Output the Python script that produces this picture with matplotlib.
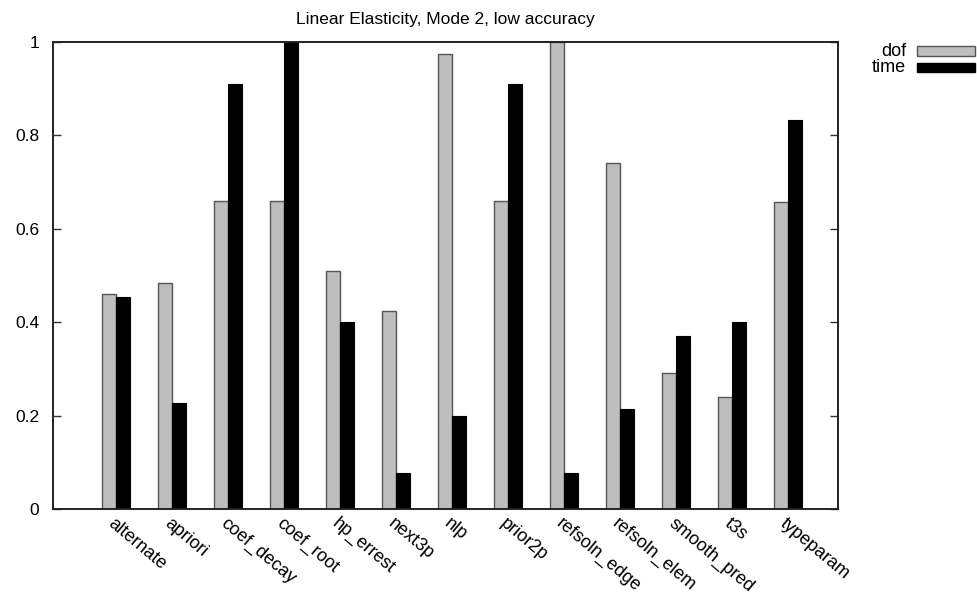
import numpy as np
import matplotlib
matplotlib.use("Agg")
import matplotlib.pyplot as plt
from matplotlib.patches import Rectangle

plt.rcParams['font.family'] = ['Liberation Sans', 'DejaVu Sans']

#Data
categories = ['alternate', 'apriori', 'coef_decay', 'coef_root', 'hp_errest',
              'next3p', 'nlp', 'prior2p', 'refsoln_edge', 'refsoln_elem',
              'smooth_pred', 't3s', 'typeparam']
dof = [0.460, 0.485, 0.660, 0.660, 0.510, 0.423, 0.974, 0.660, 1.000,
       0.740, 0.292, 0.239, 0.658]
time = [0.455, 0.228, 0.910, 1.000, 0.400, 0.078, 0.200, 0.910, 0.078,
        0.214, 0.370, 0.400, 0.834]
series_names = ['dof', 'time']
yticks = [0, 0.2, 0.4, 0.6, 0.8, 1]
ytick_labels = ['0', '0.2', '0.4', '0.6', '0.8', '1']

GREY = '#bebebe'
GREY_EDGE = '#555555'

fig = plt.figure(figsize=(9.78, 6), dpi=100)
ax = fig.add_axes([53/978, 91/600, 785/978, 467/600])

x = np.arange(len(categories))
w = 0.25
ax.bar(x - w/2, dof, w, color=GREY, edgecolor=GREY_EDGE, linewidth=1.0)
ax.bar(x + w/2, time, w, color='black', edgecolor='black', linewidth=0.8)

ax.set_xlim(-1.125, 12.89)
ax.set_ylim(0, 1)

ax.set_yticks(yticks, labels=ytick_labels)
ax.tick_params(axis='y', direction='in', length=6, width=1, pad=10,
               labelsize=12.5, right=True, colors='#333333', labelcolor='black')
ax.set_xticks(x)
ax.set_xticklabels(categories, rotation=-40, ha='left', va='top',
                   rotation_mode='anchor', fontsize=13)
ax.tick_params(axis='x', length=0, pad=4)

for s in ax.spines.values():
    s.set_linewidth(1.4)
    s.set_color('#222222')

ax.set_title('Linear Elasticity, Mode 2, low accuracy', fontsize=12.5, pad=13)

#gnuplot style key drawn by hand: label, then a long thin box
key_y = [51/600, 67.5/600]
key_colors = [(GREY, GREY_EDGE), ('black', 'black')]
for name, ky, (fc, ec) in zip(series_names, key_y, key_colors):
    fig.text(906/978, 1 - ky, name, ha='right', va='center', fontsize=13)
    fig.add_artist(Rectangle((917/978, 1 - ky - 4.5/600), 58/978, 9/600,
                             facecolor=fc, edgecolor=ec, linewidth=1.0,
                             transform=fig.transFigure))

plt.savefig('out.png', dpi=100)
